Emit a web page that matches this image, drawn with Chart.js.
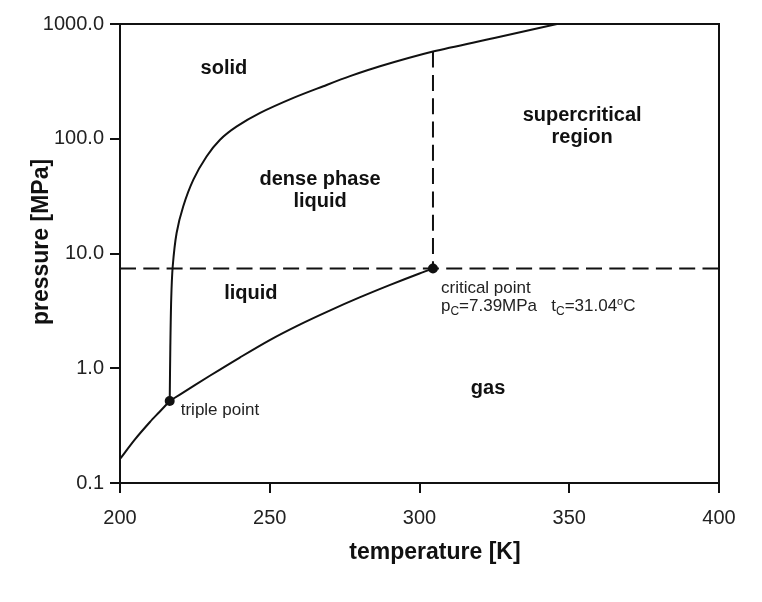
<!DOCTYPE html>
<html>
<head>
<meta charset="utf-8">
<script src="https://cdn.jsdelivr.net/npm/chart.js@4.4.1/dist/chart.umd.min.js"></script>
<style>
  html, body { margin: 0; padding: 0; background: #fff; }
  #wrap { width: 762px; height: 602px; position: relative; }
</style>
</head>
<body>
<div id="wrap"><canvas id="phase"></canvas></div>
<script>
// CO2 phase diagram: pressure (log) against temperature

// sublimation curve (solid / gas) up to the triple point
var sublimationT = [200, 205, 210, 213, 216.6];
var sublimationP = [0.162, 0.240, 0.340, 0.412, 0.518];

// vapour pressure curve (liquid / gas), triple point -> critical point
var vapourT = [216.6, 220, 230, 240, 250, 260, 270, 280, 290, 300, 304.5];
var vapourP = [0.518, 0.59, 0.86, 1.24, 1.76, 2.40, 3.18, 4.14, 5.30, 6.70, 7.39];

// melting curve (solid / liquid)
var meltingT = [216.6, 216.8, 217.1, 217.6, 218.9, 221.1, 224.5, 228.9, 233.4, 239.0, 246.8, 257.9, 267.9, 276.8, 286.8, 304.5, 325.0, 345.9];
var meltingP = [0.518, 1.5, 4.0, 7.7, 15.1, 25.7, 44, 70, 98, 128, 168, 227, 287, 351, 428, 575, 755, 1000];

var triplePoint = [216.6, 0.518];
var criticalPoint = [304.5, 7.39];
var criticalTopP = 575;   // vertical dashed line ends on the melting curve

var xTicks = [200, 250, 300, 350, 400];
var yTicks = [0.1, 1, 10, 100, 1000];

var INK = '#111';
var FONT = '"Liberation Sans", Arial, Helvetica, sans-serif';

function pts(xs, ys) {
    return xs.map(function (v, i) { return { x: v, y: ys[i] }; });
}

// region names, placed in data coordinates (first baseline, centred)
var regionLabels = [
    { lines: ['solid'], t: 234.7, p: 365 },
    { lines: ['dense phase', 'liquid'], t: 266.8, p: 39.5 },
    { lines: ['supercritical', 'region'], t: 354.3, p: 143 },
    { lines: ['liquid'], t: 243.7, p: 4.01 },
    { lines: ['gas'], t: 322.9, p: 0.596 }
];

function drawRuns(ctx, x, y, runs) {
    runs.forEach(function (r) {
        ctx.font = (r.size || 17) + 'px ' + FONT;
        ctx.fillText(r.text, x, y + (r.dy || 0));
        x += ctx.measureText(r.text).width;
    });
}

var phaseText = {
    id: 'phaseText',
    afterDatasetsDraw: function (chart) {
        var ctx = chart.ctx;
        var sx = chart.scales.x, sy = chart.scales.y, a = chart.chartArea;
        ctx.save();

        // closing frame (top and right)
        ctx.strokeStyle = INK;
        ctx.lineWidth = 2;
        ctx.beginPath();
        ctx.moveTo(a.left, a.top);
        ctx.lineTo(a.right, a.top);
        ctx.lineTo(a.right, a.bottom);
        ctx.stroke();

        ctx.fillStyle = INK;
        ctx.textBaseline = 'alphabetic';

        // bold region labels
        ctx.textAlign = 'center';
        ctx.font = 'bold 20px ' + FONT;
        regionLabels.forEach(function (l) {
            var px = sx.getPixelForValue(l.t), py = sy.getPixelForValue(l.p);
            l.lines.forEach(function (s, i) { ctx.fillText(s, px, py + i * 22); });
        });

        // point captions
        ctx.textAlign = 'left';
        ctx.fillStyle = '#222';
        var tx = sx.getPixelForValue(triplePoint[0]), ty = sy.getPixelForValue(triplePoint[1]);
        drawRuns(ctx, tx + 11, ty + 14, [{ text: 'triple point' }]);

        var cx = sx.getPixelForValue(criticalPoint[0]), cy = sy.getPixelForValue(criticalPoint[1]);
        drawRuns(ctx, cx + 8, cy + 24, [{ text: 'critical point' }]);
        drawRuns(ctx, cx + 8, cy + 42, [
            { text: 'p' }, { text: 'C', size: 12, dy: 4 },
            { text: '=7.39MPa   t' }, { text: 'C', size: 12, dy: 4 },
            { text: '=31.04' }, { text: 'o', size: 11, dy: -6 }, { text: 'C' }
        ]);

        // axis titles
        ctx.fillStyle = INK;
        ctx.font = 'bold 23px ' + FONT;
        ctx.textAlign = 'center';
        ctx.fillText('temperature [K]', 435, 559);
        ctx.translate(42, 242);
        ctx.rotate(-Math.PI / 2);
        ctx.textBaseline = 'middle';
        ctx.fillText('pressure [MPa]', 0, 0);

        ctx.restore();
    }
};

var lineStyle = { borderColor: INK, borderWidth: 2, pointRadius: 0, tension: 0.3, fill: false };
var dashStyle = { borderColor: INK, borderWidth: 2, pointRadius: 0, tension: 0, fill: false, borderDash: [16, 7.3] };

new Chart(document.getElementById('phase'), {
    type: 'line',
    data: {
        datasets: [
            {
                data: pts([triplePoint[0], criticalPoint[0]], [triplePoint[1], criticalPoint[1]]),
                showLine: false, pointRadius: 5, pointBackgroundColor: INK, pointBorderColor: INK, pointBorderWidth: 0
            },
            Object.assign({ data: pts(sublimationT, sublimationP) }, lineStyle),
            Object.assign({ data: pts(vapourT, vapourP) }, lineStyle),
            Object.assign({ data: pts(meltingT, meltingP) }, lineStyle),
            Object.assign({ data: pts([xTicks[0], xTicks[xTicks.length - 1]], [criticalPoint[1], criticalPoint[1]]) }, dashStyle),
            // drawn downward so the dash pattern starts on the melting curve
            Object.assign({ data: pts([criticalPoint[0], criticalPoint[0]], [criticalTopP, criticalPoint[1]]) }, dashStyle)
        ]
    },
    options: {
        responsive: true,
        maintainAspectRatio: false,
        animation: false,
        layout: { padding: { top: 24, right: 43, left: 0, bottom: 0 } },
        plugins: { legend: { display: false }, tooltip: { enabled: false } },
        scales: {
            x: {
                type: 'linear',
                min: xTicks[0],
                max: xTicks[xTicks.length - 1],
                afterBuildTicks: function (s) { s.ticks = xTicks.map(function (v) { return { value: v }; }); },
                afterFit: function (s) { s.height = 119; },
                grid: { drawOnChartArea: false, drawTicks: true, tickLength: 10, color: INK, lineWidth: 2 },
                border: { display: true, color: INK, width: 2 },
                ticks: { color: '#222', padding: 13, font: { size: 20, family: FONT } }
            },
            y: {
                type: 'logarithmic',
                min: yTicks[0],
                max: yTicks[yTicks.length - 1],
                afterBuildTicks: function (s) { s.ticks = yTicks.map(function (v) { return { value: v }; }); },
                afterFit: function (s) { s.width = 120; },
                grid: { drawOnChartArea: false, drawTicks: true, tickLength: 10, color: INK, lineWidth: 2 },
                border: { display: true, color: INK, width: 2 },
                ticks: {
                    color: '#222', padding: 6, font: { size: 20, family: FONT },
                    callback: function (v) { return Number(v).toFixed(1); }
                }
            }
        }
    },
    plugins: [phaseText]
});
</script>
</body>
</html>
